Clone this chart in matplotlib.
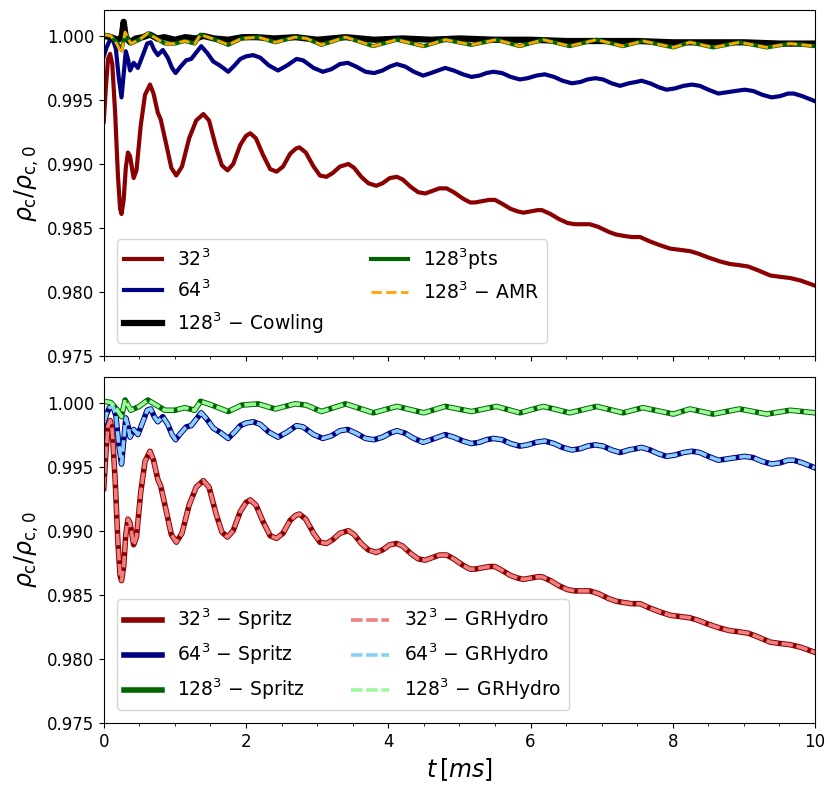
import numpy as np
import matplotlib
matplotlib.use('Agg')
import matplotlib.pyplot as plt

# ============ data ============
# central density rho_c / rho_c,0 versus time t [ms]

t_32 = [0.00, 0.03, 0.06, 0.09, 0.12, 0.16, 0.20, 0.23, 0.25, 0.28, 0.31, 0.34, 0.37, 0.42, 0.46,
        0.52, 0.58, 0.65, 0.70, 0.76, 0.80, 0.88, 0.95, 1.02, 1.10, 1.20, 1.30, 1.40, 1.48, 1.58,
        1.66, 1.74, 1.82, 1.92, 2.00, 2.06, 2.14, 2.24, 2.34, 2.43, 2.52, 2.62, 2.70, 2.75, 2.84,
        2.95, 3.04, 3.13, 3.22, 3.32, 3.44, 3.52, 3.62, 3.72, 3.83, 3.92, 4.02, 4.12, 4.20, 4.32,
        4.42, 4.52, 4.62, 4.72, 4.82, 4.92, 5.05, 5.15, 5.22, 5.32, 5.42, 5.50, 5.60, 5.72, 5.82,
        5.90, 6.00, 6.10, 6.16, 6.28, 6.40, 6.52, 6.62, 6.72, 6.83, 6.95, 7.10, 7.20, 7.30, 7.42,
        7.54, 7.66, 7.80, 7.96, 8.10, 8.24, 8.36, 8.50, 8.66, 8.80, 8.94, 9.06, 9.20, 9.37, 9.50,
        9.65, 9.80, 10.00]
rho_32 = [0.9933, 0.9960, 0.9982, 0.9986, 0.9978, 0.9940, 0.9890, 0.9865, 0.9861, 0.9872, 0.9897,
          0.9909, 0.9906, 0.9889, 0.9895, 0.9930, 0.9954, 0.9962, 0.9955, 0.9940, 0.9935, 0.9915,
          0.9897, 0.9891, 0.9898, 0.9920, 0.9934, 0.9939, 0.9934, 0.9913, 0.9899, 0.9895, 0.9900,
          0.9915, 0.9922, 0.9924, 0.9920, 0.9907, 0.9896, 0.9894, 0.9898, 0.9908, 0.9912, 0.9913,
          0.9909, 0.9898, 0.9891, 0.9890, 0.9893, 0.9898, 0.9900, 0.9897, 0.9890, 0.9885, 0.9883,
          0.9885, 0.9889, 0.9890, 0.9888, 0.9882, 0.9878, 0.9877, 0.9879, 0.9881, 0.9881, 0.9878,
          0.9873, 0.9870, 0.9870, 0.9871, 0.9872, 0.9872, 0.9869, 0.9865, 0.9863, 0.9862, 0.9863,
          0.9864, 0.9864, 0.9861, 0.9857, 0.9854, 0.9853, 0.9853, 0.9853, 0.9851, 0.9847, 0.9845,
          0.9844, 0.9843, 0.9843, 0.9840, 0.9837, 0.9834, 0.9833, 0.9832, 0.9830, 0.9827, 0.9824,
          0.9822, 0.9821, 0.9820, 0.9817, 0.9813, 0.9812, 0.9811, 0.9809, 0.9805]

t_64 = [0.00, 0.04, 0.08, 0.13, 0.17, 0.21, 0.25, 0.28, 0.31, 0.34, 0.37, 0.42, 0.48, 0.55, 0.61,
        0.66, 0.71, 0.76, 0.83, 0.90, 0.96, 1.01, 1.08, 1.16, 1.23, 1.30, 1.37, 1.45, 1.54, 1.63,
        1.75, 1.84, 1.92, 2.00, 2.10, 2.20, 2.32, 2.45, 2.58, 2.71, 2.80, 2.95, 3.08, 3.20, 3.32,
        3.43, 3.55, 3.68, 3.80, 3.92, 4.02, 4.12, 4.24, 4.36, 4.49, 4.60, 4.70, 4.80, 4.92, 5.05,
        5.17, 5.28, 5.38, 5.48, 5.60, 5.72, 5.85, 5.96, 6.08, 6.20, 6.33, 6.45, 6.58, 6.70, 6.80,
        6.91, 7.02, 7.14, 7.26, 7.38, 7.48, 7.56, 7.68, 7.80, 7.91, 8.03, 8.15, 8.27, 8.38, 8.50,
        8.64, 8.76, 8.88, 9.01, 9.13, 9.26, 9.39, 9.51, 9.62, 9.70, 9.82, 10.00]
rho_64 = [0.9984, 0.9991, 0.9996, 0.9997, 0.9990, 0.9968, 0.9952, 0.9970, 0.9988, 0.9982, 0.9973,
          0.9979, 0.9975, 0.9985, 0.9994, 0.9995, 0.9989, 0.9985, 0.9989, 0.9983, 0.9975, 0.9971,
          0.9976, 0.9981, 0.9982, 0.9987, 0.9992, 0.9987, 0.9980, 0.9977, 0.9972, 0.9977, 0.9982,
          0.9984, 0.9985, 0.9983, 0.9977, 0.9973, 0.9977, 0.9982, 0.9981, 0.9975, 0.9972, 0.9974,
          0.9978, 0.9979, 0.9976, 0.9972, 0.9971, 0.9973, 0.9976, 0.9978, 0.9976, 0.9972, 0.9969,
          0.9971, 0.9973, 0.9975, 0.9973, 0.9970, 0.9968, 0.9969, 0.9971, 0.9972, 0.9971, 0.9968,
          0.9966, 0.9967, 0.9969, 0.9970, 0.9968, 0.9965, 0.9963, 0.9964, 0.9966, 0.9967, 0.9966,
          0.9963, 0.9961, 0.9963, 0.9964, 0.9965, 0.9963, 0.9960, 0.9958, 0.9959, 0.9961, 0.9962,
          0.9961, 0.9958, 0.9955, 0.9956, 0.9957, 0.9958, 0.9957, 0.9954, 0.9952, 0.9953, 0.9955,
          0.9955, 0.9953, 0.9949]

t_cow = [0.00, 0.10, 0.20, 0.25, 0.28, 0.31, 0.37, 0.45, 0.55, 0.65, 0.75, 0.85, 1.00, 1.15, 1.30,
         1.40, 1.55, 1.75, 1.95, 2.15, 2.40, 2.70, 3.00, 3.40, 3.80, 4.20, 4.60, 5.00, 5.50, 6.00,
         6.50, 7.00, 7.50, 8.00, 8.50, 9.00, 9.50, 10.00]
rho_cow = [1.0000, 0.9999, 0.9997, 0.9999, 1.0011, 0.9999, 0.9995, 0.9998, 0.9999, 1.0001, 0.9998,
           0.9999, 0.9997, 0.9999, 0.9998, 1.0000, 0.9998, 0.9997, 0.9999, 0.9999, 0.9998, 0.9999,
           0.9997, 0.9999, 0.9997, 0.9998, 0.9997, 0.9998, 0.9997, 0.9997, 0.9996, 0.9996, 0.9996,
           0.9995, 0.9995, 0.9995, 0.9994, 0.9994]

t_128 = [0.00, 0.10, 0.18, 0.25, 0.30, 0.38, 0.50, 0.62, 0.74, 0.86, 1.00, 1.14, 1.28, 1.36, 1.52,
         1.75, 1.94, 2.17, 2.41, 2.69, 2.85, 3.06, 3.40, 3.79, 4.12, 4.50, 4.80, 5.17, 5.52, 5.85,
         6.18, 6.55, 6.93, 7.30, 7.58, 8.01, 8.24, 8.57, 8.94, 9.32, 9.65, 10.00]
rho_128 = [1.0001, 1.0000, 0.9995, 0.9989, 1.0002, 0.9994, 0.9997, 1.0002, 0.9998, 0.9994, 0.9994,
           0.9996, 0.9994, 1.0001, 0.9998, 0.9993, 0.9998, 0.9999, 0.9995, 0.9999, 0.9998, 0.9993,
           0.9999, 0.9992, 0.9997, 0.9992, 0.9997, 0.9993, 0.9997, 0.9992, 0.9997, 0.9992, 0.9997,
           0.9992, 0.9996, 0.9991, 0.9995, 0.9991, 0.9995, 0.9991, 0.9994, 0.9992]
rho_amr = [1.0001, 1.0000, 0.9994, 0.9986, 1.0003, 0.9994, 0.9997, 1.0002, 0.9998, 0.9994, 0.9994,
           0.9996, 0.9994, 1.0001, 0.9998, 0.9993, 0.9998, 0.9999, 0.9995, 0.9999, 0.9998, 0.9993,
           0.9999, 0.9992, 0.9997, 0.9992, 0.9997, 0.9993, 0.9997, 0.9992, 0.9997, 0.9992, 0.9997,
           0.9992, 0.9996, 0.9991, 0.9995, 0.9991, 0.9995, 0.9991, 0.9994, 0.9992]

# GRHydro runs lie on top of the Spritz ones
grhydro_32 = rho_32
grhydro_64 = rho_64
grhydro_128 = rho_128

# ============ plotting ============
fig, (ax1, ax2) = plt.subplots(2, 1, figsize=(8.3, 7.9), dpi=100, sharex=True)
fig.subplots_adjust(left=0.125, right=0.982, top=0.987, bottom=0.085, hspace=0.06)

# ------- top panel -------
ax1.plot(t_32, rho_32, color='darkred', lw=3, label=r'$32^3$')
ax1.plot(t_64, rho_64, color='navy', lw=3, label=r'$64^3$')
ax1.plot(t_cow, rho_cow, color='black', lw=4.5, label=r'$128^3$ $-$ Cowling')
ax1.plot(t_128, rho_128, color='darkgreen', lw=3, label=r'$128^3$pts')
ax1.plot(t_128, rho_amr, color='orange', lw=2, ls='--', label=r'$128^3$ $-$ AMR')
ax1.legend(loc='lower left', ncol=2, fontsize=13.5, borderaxespad=0.7, columnspacing=2.5)

# ------- bottom panel -------
ax2.plot(t_32, rho_32, color='darkred', lw=4, label=r'$32^3$ $-$ Spritz')
ax2.plot(t_64, rho_64, color='navy', lw=4, label=r'$64^3$ $-$ Spritz')
ax2.plot(t_128, rho_128, color='darkgreen', lw=4, label=r'$128^3$ $-$ Spritz')
ax2.plot(t_32, grhydro_32, color='lightcoral', lw=2.6, dashes=(3.2, 1.0), label=r'$32^3$ $-$ GRHydro')
ax2.plot(t_64, grhydro_64, color='lightskyblue', lw=2.6, dashes=(3.2, 1.0), label=r'$64^3$ $-$ GRHydro')
ax2.plot(t_128, grhydro_128, color='palegreen', lw=2.6, dashes=(3.2, 1.0), label=r'$128^3$ $-$ GRHydro')
ax2.legend(loc='lower left', ncol=2, fontsize=13.5, borderaxespad=0.7, columnspacing=2.5)

for ax in (ax1, ax2):
    ax.set_xlim(0, 10)
    ax.set_ylim(0.975, 1.002)
    ax.set_yticks([0.975, 0.980, 0.985, 0.990, 0.995, 1.000])
    ax.set_xticks([0, 2, 4, 6, 8, 10])
    ax.set_xticks(np.arange(0, 10.01, 0.5), minor=True)
    ax.tick_params(labelsize=12)
    ax.set_ylabel(r'$\rho_{\rm c}/\rho_{\rm c,0}$', fontsize=17)

ax2.set_xlabel(r'$t\,[ms]$', fontsize=17)

plt.savefig('out.png')
